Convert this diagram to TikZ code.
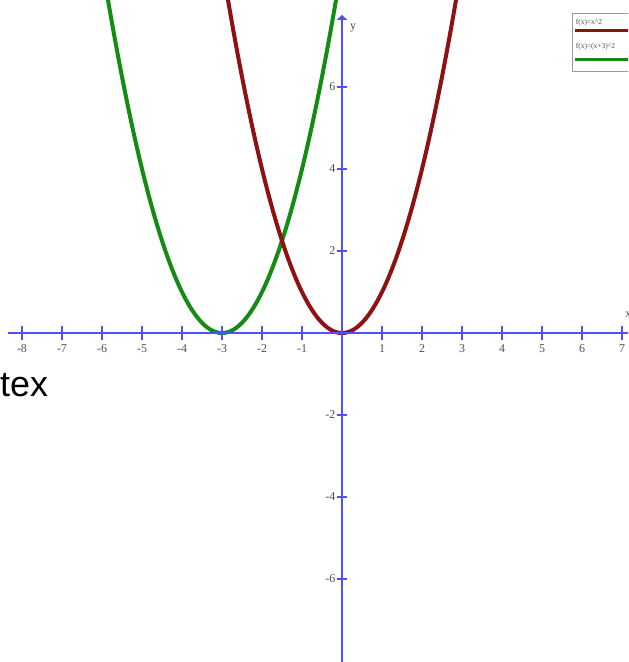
\documentclass[tikz,border=0pt]{standalone}
\usepackage{fontspec}
\setmainfont{Liberation Serif}
\newfontfamily\plainsans{Liberation Sans}
\usetikzlibrary{arrows.meta, positioning}
\definecolor{AxisBlue}{HTML}{5050FF}
\definecolor{CurveRed}{HTML}{8E1212}
\definecolor{CurveGreen}{HTML}{148C14}
\definecolor{TickGray}{HTML}{505050}
\definecolor{FrameGray}{HTML}{9A9A9A}

\begin{document}
\begin{tikzpicture}[x=40bp, y=41bp,
          axis/.style={draw=AxisBlue, line width=2.8bp},
          tickmark/.style={draw=AxisBlue, line width=1.3bp},
          ticklbl/.style={font=\fontsize{12}{12}\selectfont, text=TickGray, inner sep=0pt},
          curve/.style={line width=4bp, line join=round, line cap=round},
          keytext/.style={font=\fontsize{7.5}{7.5}\selectfont, text=TickGray, inner sep=0pt, anchor=west},
          keyline/.style={line width=3bp},
          arr/.style={-{Triangle[length=5bp, width=10bp]}}
        ]
          \clip (-8.55,-8.024) rectangle (7.15,8.122);
          \fill[white] (-8.55,-8.024) rectangle (7.15,8.122);
          \draw[curve, CurveGreen] plot[domain=-5.9:-0.1, samples=120, smooth] ({\x}, {(\x+3)*(\x+3)});
          \draw[curve, CurveRed] plot[domain=-2.9:2.9, samples=120, smooth] ({\x}, {\x*\x});
          \coordinate (xstart) at (-8.35,0);
          \coordinate (xend) at (7.4,0);
          \coordinate (ybot) at (0,-8.3);
          \coordinate (ytop) at (0,7.76);
          \draw[axis] (xstart) -- (xend);
          \draw[axis, arr] (ybot) -- (ytop);
          \foreach \i [count=\k] in {-8,...,-1,1,2,...,7} {
            \draw[tickmark] (\i,-0.17) -- (\i,0.17);
            \node[ticklbl] (xl\k) at (\i,-0.38) {\i};
          }
          \foreach \i [count=\k] in {-6,-4,-2,2,4,6} {
            \draw[tickmark] (-0.13,\i) -- (0.13,\i);
            \node[ticklbl, anchor=east] (yl\k) at (-0.16,\i) {\i};
          }
          \node[ticklbl] (ylabel) at (0.28,7.44) {y};
          \node[ticklbl, anchor=west] (xlabel) at (7.08,0.44) {x};
          \draw[FrameGray, fill=white, line width=1bp] (5.75,6.39) rectangle (7.6,7.8);
          \node[keytext] (key1) at (5.84,7.58) {f(x)=x\^{}2};
          \draw[keyline, CurveRed] (5.82,7.37) -- (7.6,7.37);
          \node[keytext] (key2) at (5.84,6.98) {f(x)=(x+3)\^{}2};
          \draw[keyline, CurveGreen] (5.82,6.66) -- (7.6,6.66);
          \node[font=\plainsans\fontsize{36}{36}\selectfont, anchor=base west, inner sep=0pt] (stray) at (-8.55,-1.56) {tex};
        \end{tikzpicture}
\end{document}
